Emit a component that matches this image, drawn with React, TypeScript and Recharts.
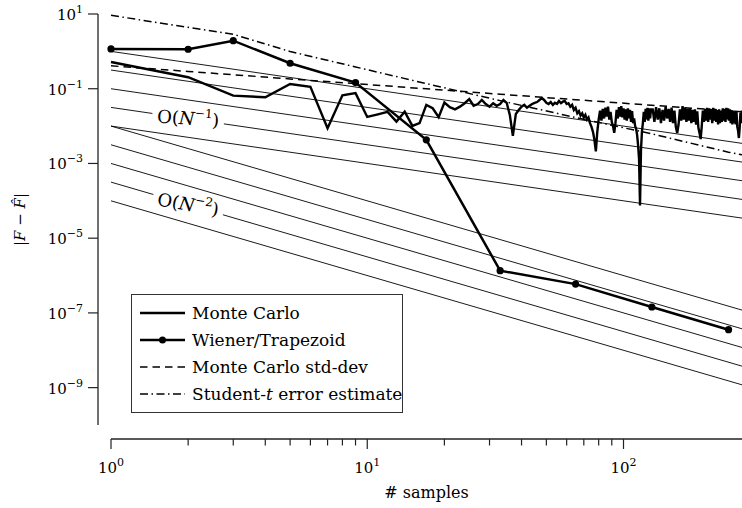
import React from 'react'
import { LineChart, Line, XAxis, YAxis, Legend, ReferenceDot } from 'recharts'

const FONT = '"DejaVu Serif", serif'
const AXIS = '#222'

// Wiener / trapezoid rule, evaluated at N = 2^k + 1 samples
const wienerN = [1, 2, 3, 5, 9, 17, 33, 65, 129, 257]
const wienerErr = [1.16, 1.14, 1.93, 0.48, 0.146, 0.00428, 1.35e-6, 5.9e-7, 1.44e-7, 3.55e-8]

// error estimates (std-dev and Student-t), read at a few sample counts
const estN = [1, 2, 3, 5, 9, 17, 33, 65, 129, 257, 290]
const stdDev = [0.41, 0.29, 0.237, 0.183, 0.137, 0.0995, 0.0714, 0.0509, 0.0361, 0.0256, 0.0241]
const studentT = [9.2, 4.4, 2.87, 0.99, 0.383, 0.137, 0.048, 0.017, 0.0062, 0.002, 0.0017]

// Monte Carlo error, N = 1..128
const mcErrA = [
  0.52, 0.203, 0.0655, 0.059, 0.134, 0.112, 0.0088, 0.067, 0.076, 0.0176,
  0.0206, 0.024, 0.0132, 0.0244, 0.0101, 0.012, 0.0369, 0.0301, 0.0173, 0.0425,
  0.032, 0.028, 0.0332, 0.041, 0.053, 0.035, 0.039, 0.05, 0.039, 0.033,
  0.041, 0.035, 0.039, 0.05, 0.042, 0.02, 0.0055, 0.021, 0.027, 0.033,
  0.037, 0.031, 0.035, 0.039, 0.042, 0.044, 0.05, 0.056, 0.05, 0.042,
  0.039, 0.044, 0.037, 0.042, 0.039, 0.047, 0.041, 0.045, 0.047, 0.039,
  0.041, 0.033, 0.037, 0.027, 0.031, 0.022, 0.025, 0.019, 0.022, 0.017,
  0.02, 0.015, 0.017, 0.012, 0.0095, 0.007, 0.0043, 0.0021, 0.007, 0.015,
  0.026, 0.014, 0.029, 0.016, 0.031, 0.018, 0.033, 0.015, 0.024, 0.013,
  0.01, 0.0066, 0.012, 0.027, 0.016, 0.032, 0.018, 0.034, 0.017, 0.03,
  0.015, 0.028, 0.014, 0.03, 0.016, 0.027, 0.013, 0.025, 0.012, 0.016,
  0.01, 0.0084, 0.0058, 0.0031, 0.0013, 0.000075, 0.0023, 0.007, 0.012, 0.024,
  0.013, 0.029, 0.015, 0.031, 0.014, 0.03, 0.016, 0.028,
]
// Monte Carlo error, N = 130..290 (every second N)
const mcErrB = [
  0.028, 0.013, 0.032, 0.015, 0.03, 0.012, 0.027, 0.014, 0.033, 0.016,
  0.029, 0.013, 0.031, 0.012, 0.026, 0.0095, 0.0065, 0.011, 0.028, 0.014,
  0.034, 0.015, 0.031, 0.013, 0.029, 0.014, 0.03, 0.012, 0.027, 0.013,
  0.028, 0.011, 0.025, 0.009, 0.0065, 0.0045, 0.01, 0.026, 0.013, 0.029,
  0.014, 0.031, 0.013, 0.03, 0.015, 0.028, 0.012, 0.031, 0.014, 0.029,
  0.013, 0.027, 0.011, 0.028, 0.012, 0.026, 0.013, 0.03, 0.014, 0.029,
  0.013, 0.031, 0.015, 0.03, 0.014, 0.028, 0.012, 0.027, 0.011, 0.026,
  0.012, 0.025, 0.011, 0.024, 0.0095, 0.0075, 0.0048, 0.009, 0.023, 0.012,
  0.026,
]

// guide lines O(N^-1) and O(N^-2), values at N = 1, 2, 290
const refN = [1, 2, 290]
const orderOne = [
  [1, 0.5, 0.003448],
  [0.3162, 0.1581, 0.00109],
  [0.1, 0.05, 0.0003448],
  [0.03162, 0.01581, 0.000109],
  [0.01, 0.005, 0.00003448],
]
const orderTwo = [
  [0.01, 0.0025, 1.189e-7],
  [0.003162, 0.0007906, 3.76e-8],
  [0.001, 0.00025, 1.189e-8],
  [0.0003162, 0.00007906, 3.76e-9],
  [0.0001, 0.000025, 1.189e-9],
]
const rateLabelN = [2, 2]
const rateLabelY = [0.01581, 0.00007906]
const ratePowers = [1, 2]

const xTicks = [1, 2, 3, 4, 5, 6, 7, 8, 9, 10, 20, 30, 40, 50, 60, 70, 80, 90, 100]
const yTicks = [10, 0.1, 1e-3, 1e-5, 1e-7, 1e-9]

const legendLabels = ['Monte Carlo', 'Wiener/Trapezoid', 'Monte Carlo std-dev', 'Student-t error estimate']

const toRows = (xs: number[], ys: number[]) => xs.map((x, i) => ({ x, y: ys[i] }))
const mcRows = [
  ...mcErrA.map((y, i) => ({ x: i + 1, y })),
  ...mcErrB.map((y, i) => ({ x: 130 + 2 * i, y })),
]

const expText = (v: number) => {
  const e = Math.round(Math.log10(v))
  return e < 0 ? '\u2212' + -e : String(e)
}
const isMajor = (v: number) => Math.abs(Math.log10(v) - Math.round(Math.log10(v))) < 1e-9

const XTick = ({ x, y, payload }: any) => {
  const major = isMajor(payload.value)
  return (
    <g>
      <line x1={x} x2={x} y1={y} y2={y + (major ? 10 : 6.5)} stroke={AXIS} strokeWidth={1.2} />
      {major && (
        <text x={x} y={y + 34} textAnchor="middle" fontSize={15} fill="#000">
          10<tspan dy={-7} fontSize={11}>{expText(payload.value)}</tspan>
        </text>
      )}
    </g>
  )
}

const YTick = ({ x, y, payload }: any) => (
  <g>
    <line x1={x - 10} x2={x} y1={y} y2={y} stroke={AXIS} strokeWidth={1.2} />
    <text x={x - 15} y={y + 6} textAnchor="end" fontSize={15} fill="#000">
      10<tspan dy={-7} fontSize={11}>{expText(payload.value)}</tspan>
    </text>
  </g>
)

const XLabel = ({ viewBox }: any) => (
  <text x={viewBox.x + viewBox.width / 2} y={viewBox.y + 59} textAnchor="middle" fontSize={16} fill="#000">
    # samples
  </text>
)

const YLabel = ({ viewBox }: any) => {
  const cx = viewBox.x + 25
  const cy = viewBox.y + viewBox.height / 2
  return (
    <text x={cx} y={cy} transform={`rotate(-90, ${cx}, ${cy})`} textAnchor="middle" fontSize={15} fill="#000">
      |<tspan fontStyle="italic">F</tspan> − <tspan fontStyle="italic">{'F\u0302'}</tspan>|
    </text>
  )
}

const RateLabel = ({ cx, cy, power, angle }: any) => (
  <g transform={`translate(${cx},${cy}) rotate(${angle})`}>
    <rect x={-36} y={-11} width={72} height={22} fill="#fff" />
    <text x={0} y={6} textAnchor="middle" fontSize={18} fill="#000">
      O(<tspan fontStyle="italic">N</tspan>
      <tspan dy={-8} fontSize={12}>{'\u2212' + power}</tspan>
      <tspan dy={8}>)</tspan>
    </text>
  </g>
)

const LegendBox = () => (
  <svg width={272} height={119} style={{ display: 'block', fontFamily: FONT }}>
    <rect x={0.5} y={0.5} width={271} height={118} fill="#fff" stroke="#333" strokeWidth={1} />
    {legendLabels.map((label, i) => {
      const cy = 19 + i * 27
      return (
        <g key={label}>
          <line
            x1={9}
            x2={54}
            y1={cy}
            y2={cy}
            stroke="#000"
            strokeWidth={i < 2 ? 2.4 : 1.5}
            strokeDasharray={i === 2 ? '7.5 5' : i === 3 ? '8 3.5 1.5 3.5' : undefined}
          />
          {i === 1 && <circle cx={31.5} cy={cy} r={3.5} fill="#000" />}
          <text x={61} y={cy + 6} fontSize={17} fill="#000">
            {i === 3 ? (
              <>
                Student-<tspan fontStyle="italic">t</tspan> error estimate
              </>
            ) : (
              label
            )}
          </text>
        </g>
      )
    })}
  </svg>
)

export default function App() {
  return (
    <div style={{ position: 'absolute', left: 0, top: 0, background: '#fff' }}>
      <LineChart
        width={742}
        height={508}
        margin={{ top: 14, right: 0, bottom: 0, left: 0 }}
        style={{ fontFamily: FONT }}
      >
        <XAxis
          xAxisId="main"
          dataKey="x"
          type="number"
          scale="log"
          domain={[1, 290]}
          ticks={xTicks}
          interval={0}
          height={69}
          tickSize={0}
          tickMargin={0}
          tickLine={false}
          axisLine={{ stroke: AXIS, strokeWidth: 1.3 }}
          tick={(p: any) => <XTick {...p} />}
          label={{ content: XLabel }}
        />
        {/* empty axis: keeps the spine detached from the plot area */}
        <XAxis xAxisId="gap" type="number" domain={[0, 1]} height={14} tick={false} axisLine={false} tickLine={false} />
        <YAxis
          yAxisId="main"
          type="number"
          scale="log"
          domain={[1e-10, 10]}
          ticks={yTicks}
          interval={0}
          width={98}
          tickSize={0}
          tickMargin={0}
          tickLine={false}
          axisLine={{ stroke: AXIS, strokeWidth: 1.3 }}
          tick={(p: any) => <YTick {...p} />}
          label={{ content: YLabel }}
        />
        <YAxis yAxisId="gap" type="number" domain={[0, 1]} width={13} tick={false} axisLine={false} tickLine={false} />
        {[...orderOne, ...orderTwo].map((vals, i) => (
          <Line
            key={'guide' + i}
            data={toRows(refN, vals)}
            dataKey="y"
            xAxisId="main"
            yAxisId="main"
            stroke="#000"
            strokeWidth={0.9}
            dot={false}
            legendType="none"
            isAnimationActive={false}
          />
        ))}
        <Line
          data={toRows(estN, stdDev)}
          dataKey="y"
          xAxisId="main"
          yAxisId="main"
          stroke="#000"
          strokeWidth={1.5}
          strokeDasharray="7.5 5"
          dot={false}
          isAnimationActive={false}
        />
        <Line
          data={toRows(estN, studentT)}
          dataKey="y"
          xAxisId="main"
          yAxisId="main"
          stroke="#000"
          strokeWidth={1.5}
          strokeDasharray="8 3.5 1.5 3.5"
          dot={false}
          isAnimationActive={false}
        />
        <Line
          data={mcRows}
          dataKey="y"
          xAxisId="main"
          yAxisId="main"
          stroke="#000"
          strokeWidth={2.4}
          dot={false}
          isAnimationActive={false}
        />
        <Line
          data={toRows(wienerN, wienerErr)}
          dataKey="y"
          xAxisId="main"
          yAxisId="main"
          stroke="#000"
          strokeWidth={2.5}
          dot={{ r: 3.6, fill: '#000', stroke: '#000', strokeWidth: 0 }}
          isAnimationActive={false}
        />
        {rateLabelN.map((n, i) => (
          <ReferenceDot
            key={'rate' + i}
            xAxisId="main"
            yAxisId="main"
            x={n}
            y={rateLabelY[i]}
            ifOverflow="visible"
            shape={(p: any) => <RateLabel cx={p.cx} cy={p.cy} power={ratePowers[i]} angle={i === 0 ? 4 : 10} />}
          />
        ))}
        <Legend
          layout="vertical"
          align="center"
          verticalAlign="middle"
          wrapperStyle={{ left: 131, top: 294, width: 272, height: 119 }}
          content={() => <LegendBox />}
        />
      </LineChart>
    </div>
  )
}
